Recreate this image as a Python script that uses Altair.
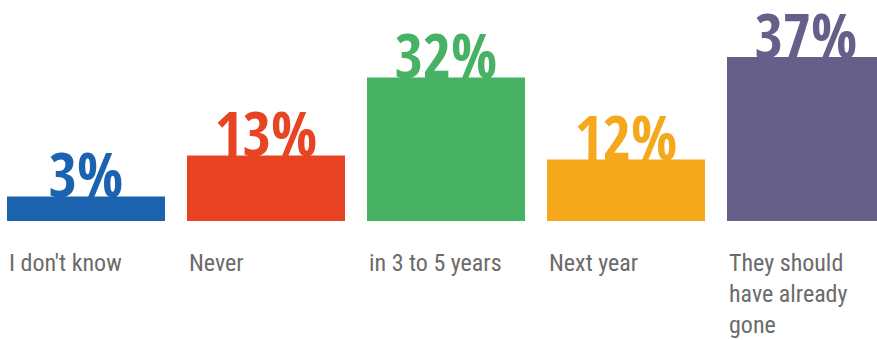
import altair as alt
import pandas as pd

categories = ["I don't know", "Never", "in 3 to 5 years", "Next year", "They should\nhave already\ngone"]
values = [3, 13, 32, 12, 37]
colors = ["#1c63af", "#e84424", "#47b264", "#f6a81d", "#655f8a"]

df = pd.DataFrame({
    "cat": categories,
    "value": values,
    "color": colors,
    "label": [f"{v}%" for v in values],
})

xscale = alt.Scale(domain=categories, range=[0, 878], paddingInner=22 / 180, paddingOuter=0)
yscale = alt.Scale(domain=[-3, 50.9], zero=False, nice=False)

x = alt.X("cat:N", scale=xscale, axis=None, sort=categories)
y = alt.Y("value:Q", scale=yscale, axis=None)

bars = alt.Chart(df).mark_bar(clip=True).encode(
    x=x,
    y=y,
    y2=alt.Y2(datum=-3),
    color=alt.Color("color:N", scale=None, legend=None),
)

pct = alt.Chart(df).mark_text(
    font="Open Sans Condensed, Roboto Condensed, DejaVu Sans Condensed, sans-serif",
    fontWeight="bold",
    fontSize=61,
    baseline="alphabetic",
    align="center",
    dy=1,
).encode(
    x=x,
    y=y,
    text="label:N",
    color=alt.Color("color:N", scale=None, legend=None),
)

cats = alt.Chart(df).mark_text(
    font="Roboto Condensed, Open Sans Condensed, DejaVu Sans Condensed, sans-serif",
    fontSize=24,
    color="#6b6b6b",
    align="left",
    baseline="alphabetic",
    lineBreak="\n",
    lineHeight=31,
    dx=-77,
).encode(
    x=x,
    y=alt.value(271),
    text="cat:N",
)

chart = alt.layer(bars, pct, cats).properties(
    width=870,
    height=221,
    autosize=alt.AutoSizeParams(type="none"),
    padding={"left": 7, "right": 0, "top": 0, "bottom": 119},
    background="white",
).configure_view(stroke=None)

chart.save("out.html", embed_options={"renderer": "svg", "actions": False})
